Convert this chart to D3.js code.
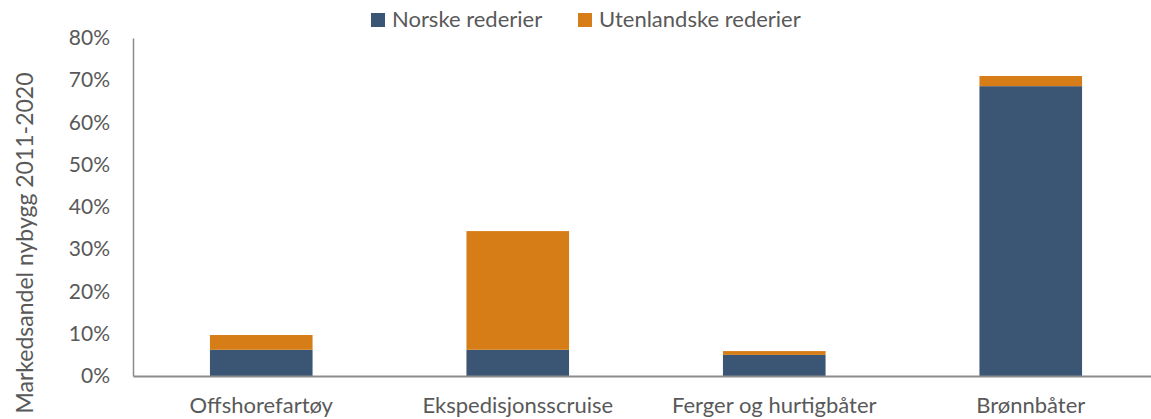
<!DOCTYPE html>
<html>
<head>
<meta charset="utf-8">
<script src="https://cdn.jsdelivr.net/npm/d3@7"></script>
<style>
  body { margin: 0; background: #fff; }
  text { font-family: Lato, "Open Sans", sans-serif; fill: #595959; }
</style>
</head>
<body>
<div id="container"></div>
<script>
let w = 1151;
let h = 419;

// data
let categories = ["Offshorefartøy", "Ekspedisjonsscruise", "Ferger og hurtigbåter", "Brønnbåter"];
let norske = [0.062, 0.062, 0.050, 0.686];
let utenlandske = [0.035, 0.281, 0.009, 0.024];
let seriesNames = ["Norske rederier", "Utenlandske rederier"];
let seriesColors = ["#3b5674", "#d67d17"];
let yTicks = [0, 0.1, 0.2, 0.3, 0.4, 0.5, 0.6, 0.7, 0.8];

let viz = d3.select("#container")
  .append("svg")
    .attr("width", w)
    .attr("height", h)
;

let plotLeft = 133;
let plotTop = 38;
let plotBottom = 376;

let xScale = d3.scaleBand().domain(categories).range([plotLeft, plotLeft + 4 * 256.5]).paddingInner(0.6).paddingOuter(0.3);
let yScale = d3.scaleLinear().domain([0, 0.8]).range([plotBottom, plotTop]);

// table for the stack
let table = categories.map(function(c, i){
  return { cat: c, norske: norske[i], utenlandske: utenlandske[i] };
});
let stacked = d3.stack().keys(["norske", "utenlandske"])(table);

// y axis
let yAxis = d3.axisLeft(yScale).tickValues(yTicks).tickFormat(d3.format(".0%")).tickSize(0).tickPadding(23);
let yAxisGroup = viz.append("g").attr("class", "yaxis")
  .attr("transform", "translate(" + plotLeft + ",0)")
  .call(yAxis);
yAxisGroup.select(".domain").attr("stroke", "#8c8c8c").attr("stroke-width", 1.5);
yAxisGroup.selectAll("text").style("font-size", "21px").attr("fill", "#595959");

// bars
let layers = viz.append("g").selectAll("g")
  .data(stacked)
  .enter()
  .append("g")
    .attr("fill", function(d, i){ return seriesColors[i]; });

layers.selectAll("rect")
  .data(function(d){ return d; })
  .enter()
  .append("rect")
    .attr("x", function(d){ return xScale(d.data.cat); })
    .attr("width", xScale.bandwidth())
    .attr("y", function(d){ return yScale(d[1]); })
    .attr("height", function(d){ return yScale(d[0]) - yScale(d[1]); })
;

// x axis
let xAxis = d3.axisBottom(xScale).tickSize(0).tickPadding(21);
let xAxisGroup = viz.append("g").attr("class", "xaxis")
  .attr("transform", "translate(0," + plotBottom + ")")
  .call(xAxis);
xAxisGroup.select(".domain").attr("stroke", "#8c8c8c").attr("stroke-width", 2);
xAxisGroup.selectAll("text").style("font-size", "22px").attr("fill", "#595959");

// y axis title
viz.append("text")
  .attr("transform", "translate(33," + 243 + ") rotate(-90)")
  .attr("text-anchor", "middle")
  .style("font-size", "23px")
  .text("Markedsandel nybygg 2011-2020");

// legend
let legendX = [371, 578];
let legend = viz.append("g").selectAll("g")
  .data(seriesNames)
  .enter()
  .append("g")
    .attr("transform", function(d, i){ return "translate(" + legendX[i] + ",13)"; });
legend.append("rect")
  .attr("width", 14)
  .attr("height", 14)
  .attr("fill", function(d, i){ return seriesColors[i]; });
legend.append("text")
  .attr("x", 21)
  .attr("y", 14)
  .style("font-size", "22px")
  .text(function(d){ return d; });
</script>
</body>
</html>
